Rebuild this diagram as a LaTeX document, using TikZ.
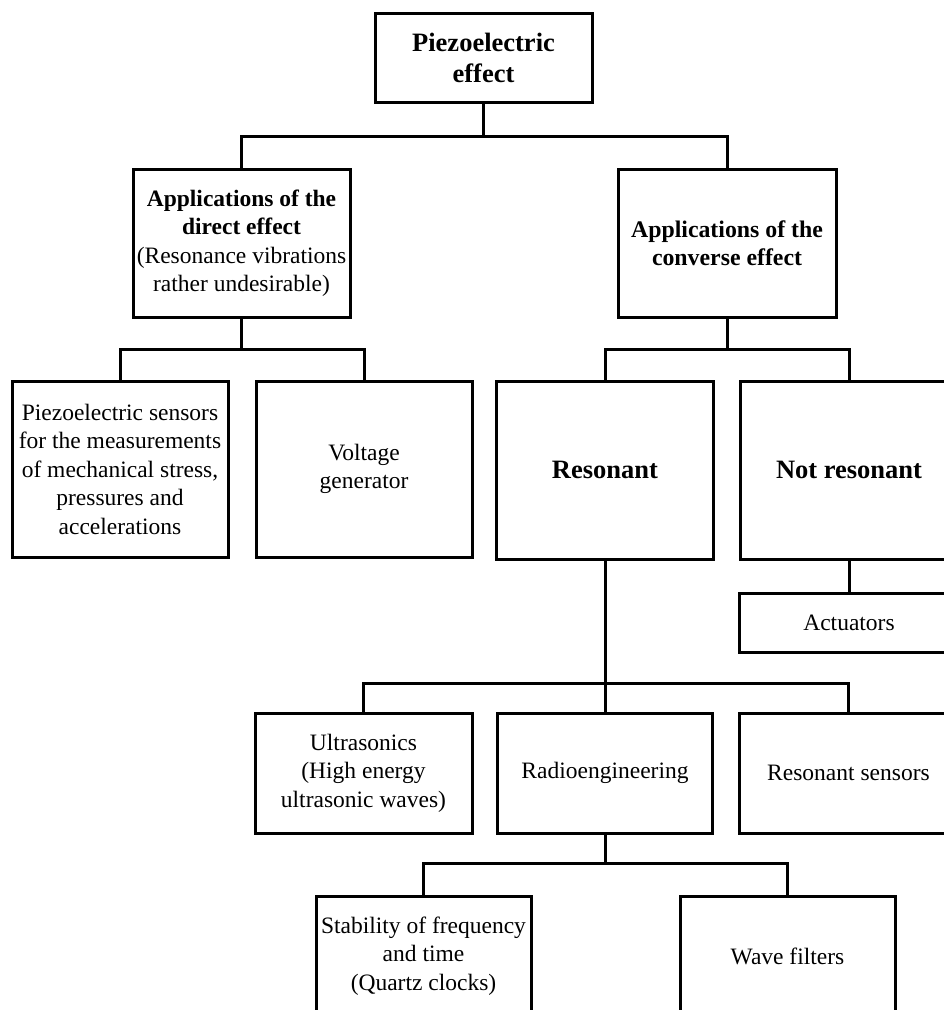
\documentclass[tikz,border=0pt]{standalone}
\usepackage{fontspec}
\setmainfont{Liberation Serif}
\tikzset{
  box/.style={draw, line width=3.0pt, fill=white, align=center, inner sep=2pt,
    font=\fontsize{23.5}{28.5}\selectfont},
  bbox/.style={box, font=\fontsize{23.8}{28.5}\selectfont\bfseries},
  big/.style={box, font=\fontsize{26.5}{31}\selectfont\bfseries},
  link/.style={line width=3.0pt}
}
\begin{document}
\begin{tikzpicture}[x=1pt,y=-1pt]
\useasboundingbox (0,0) rectangle (944,1010);
\clip (0,0) rectangle (944,1010);
% nodes
\node[big, minimum width=217pt, minimum height=89pt] (top) at (483.5,57.5) {Piezoelectric\\effect};
\node[box, minimum width=217pt, minimum height=148pt] (direct) at (241.5,243)
  {\bfseries Applications of the\\\bfseries direct effect\\(Resonance vibrations\\rather undesirable)};
\node[bbox, minimum width=218pt, minimum height=148pt] (conv) at (727,243) {Applications of the\\converse effect};
\node[box, minimum width=216pt, minimum height=176pt] (sens) at (120,469)
  {Piezoelectric sensors\\for the measurements\\of mechanical stress,\\pressures and\\accelerations};
\node[box, minimum width=216pt, minimum height=176pt] (volt) at (364,469) {Voltage\\generator};
\node[big, minimum width=217pt, minimum height=178pt] (reson) at (605,470) {Resonant};
\node[big, minimum width=217pt, minimum height=178pt] (notres) at (849,470) {Not resonant};
\node[box, minimum width=220pt, minimum height=59pt] (act) at (849,622.5) {Actuators};
\node[box, minimum width=217pt, minimum height=120pt] (ultra) at (363.5,773) {Ultrasonics\\(High energy\\ultrasonic waves)};
\node[box, minimum width=215pt, minimum height=120pt] (radio) at (605,773) {Radioengineering};
\node[box, minimum width=219pt, minimum height=120pt] (rsens) at (848.5,773) {Resonant sensors};
\node[box, minimum width=215pt, minimum height=120pt] (stab) at (423.5,956) {Stability of frequency\\and time\\(Quartz clocks)};
\node[box, minimum width=215pt, minimum height=120pt] (wave) at (787.5,956) {Wave filters};
% connectors
\draw[link] (top.south) -- (top.south |- 0,136);
\draw[link] (direct.north) -- (direct.north |- 0,136) -- (conv.north |- 0,136) -- (conv.north);
\draw[link] (direct.south) -- (direct.south |- 0,349);
\draw[link] (sens.north) -- (sens.north |- 0,349) -- (volt.north |- 0,349) -- (volt.north);
\draw[link] (conv.south) -- (conv.south |- 0,349);
\draw[link] (reson.north) -- (reson.north |- 0,349) -- (notres.north |- 0,349) -- (notres.north);
\draw[link] (notres.south) -- (act.north);
\draw[link] (reson.south) -- (radio.north);
\draw[link] (ultra.north) -- (ultra.north |- 0,683) -- (rsens.north |- 0,683) -- (rsens.north);
\draw[link] (radio.south) -- (radio.south |- 0,863);
\draw[link] (stab.north) -- (stab.north |- 0,863) -- (wave.north |- 0,863) -- (wave.north);
\end{tikzpicture}
\end{document}
